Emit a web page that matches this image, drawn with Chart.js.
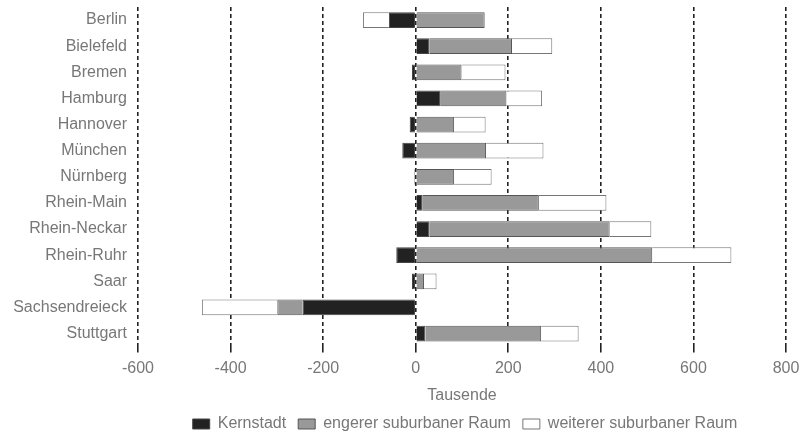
<!DOCTYPE html>
<html>
<head>
<meta charset="utf-8">
<script src="https://cdn.jsdelivr.net/npm/chart.js@4.4.1/dist/chart.umd.min.js"></script>
<style>
  html, body { margin: 0; padding: 0; background: #fff; }
  #wrap { width: 808px; height: 432px; }
</style>
</head>
<body>
<div id="wrap"><canvas id="chart" width="808" height="432"></canvas></div>
<script>
// Regionen
const regionen = ["Berlin", "Bielefeld", "Bremen", "Hamburg", "Hannover", "München", "Nürnberg",
    "Rhein-Main", "Rhein-Neckar", "Rhein-Ruhr", "Saar", "Sachsendreieck", "Stuttgart"];

// Werte in Tausend
const kernstadt = [-58, 30, -8, 54, -13, -29, -3, 15, 30, -42, -8, -244, 21];
const engererRaum = [149, 178, 99, 142, 83, 152, 83, 251, 389, 511, 18, -55, 250];
const weitererRaum = [-56, 87, 95, 77, 68, 124, 81, 146, 90, 171, 27, -163, 81];

const achsenTicks = [-600, -400, -200, 0, 200, 400, 600, 800];

const textFarbe = "#777";
const schrift = "'Liberation Sans', Arial, sans-serif";

// Legende etwas nach rechts schieben (mittig unter der Zeichenfläche)
const legendeVerschieben = {
    id: "legendeVerschieben",
    afterLayout(chart) {
        const dx = 72;
        chart.legend.left += dx;
        chart.legend.right += dx;
    }
};

const ctx = document.getElementById("chart").getContext("2d");
new Chart(ctx, {
    type: "bar",
    data: {
        labels: regionen,
        datasets: [
            { label: "Kernstadt", data: kernstadt, backgroundColor: "#222", borderColor: "#444", borderWidth: 1 },
            { label: "engerer suburbaner Raum", data: engererRaum, backgroundColor: "#999", borderColor: "#555", borderWidth: 1 },
            { label: "weiterer suburbaner Raum", data: weitererRaum, backgroundColor: "#fff", borderColor: "#777", borderWidth: 1 }
        ]
    },
    options: {
        indexAxis: "y",
        responsive: false,
        animation: false,
        layout: { padding: { top: 7, right: 22, left: 0, bottom: -10 } },
        datasets: { bar: { barPercentage: 0.6, categoryPercentage: 1 } },
        scales: {
            x: {
                stacked: true,
                min: achsenTicks[0],
                max: achsenTicks[achsenTicks.length - 1],
                afterBuildTicks: (axis) => { axis.ticks = achsenTicks.map(v => ({ value: v })); },
                grid: { color: "#222", lineWidth: 1.6, tickLength: 6, drawTicks: true },
                border: { display: false, dash: [4, 3] },
                ticks: { color: textFarbe, font: { family: schrift, size: 16 }, padding: 6 },
                title: { display: true, text: "Tausende", color: textFarbe, font: { family: schrift, size: 16 }, padding: { top: 2, bottom: -1 } }
            },
            y: {
                stacked: true,
                grid: { display: false, drawTicks: false },
                border: { display: false },
                ticks: { color: textFarbe, font: { family: schrift, size: 16 }, padding: 11 },
                afterFit: (axis) => { axis.width = 138; axis.paddingTop = 0; axis.paddingBottom = 0; }
            }
        },
        plugins: {
            legend: {
                position: "bottom",
                labels: {
                    color: textFarbe,
                    font: { family: schrift, size: 16 },
                    boxWidth: 17,
                    boxHeight: 10,
                    padding: 12
                }
            },
            tooltip: { enabled: false }
        }
    },
    plugins: [legendeVerschieben]
});
</script>
</body>
</html>
